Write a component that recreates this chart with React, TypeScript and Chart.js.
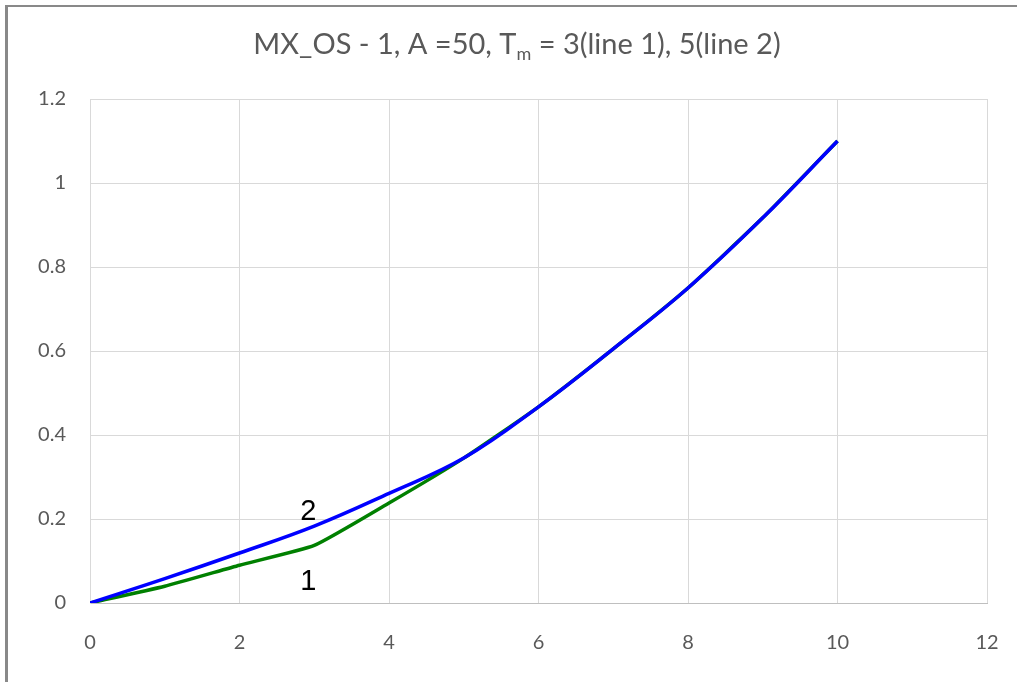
import { useEffect, useRef } from "react";
import { Chart, registerables } from "chart.js";

Chart.register(...registerables);

const xValues = [0, 1, 2, 3, 4, 5, 6, 7, 8, 9, 10];
const line1 = [0, 0.04, 0.09, 0.137, 0.238, 0.345, 0.467, 0.605, 0.75, 0.917, 1.1];
const line2 = [0, 0.058, 0.119, 0.183, 0.261, 0.345, 0.467, 0.605, 0.75, 0.917, 1.1];
const xTicks = [0, 2, 4, 6, 8, 10, 12];
const yTicks = [0, 0.2, 0.4, 0.6, 0.8, 1, 1.2];
const titleMain = "MX_OS - 1, A =50, T";
const titleSub = "m";
const titleRest = " = 3(line 1), 5(line 2)";
const lineLabels = [
  { text: "2", x: 2.92, y: 0.217 },
  { text: "1", x: 2.92, y: 0.05 },
];

const FONT = "Lato, 'Open Sans', sans-serif";

export default function App() {
  const ref = useRef<HTMLCanvasElement | null>(null);

  useEffect(() => {
    if (!ref.current) return;
    const decor = {
      id: "decor",
      beforeDraw(chart: any) {
        const ctx = chart.ctx;
        ctx.save();
        ctx.fillStyle = "#ffffff";
        ctx.fillRect(0, 0, chart.width, chart.height);
        ctx.fillStyle = "#898989";
        ctx.fillRect(5, 5, 3, chart.height);
        ctx.fillRect(5, 5, chart.width, 2);
        ctx.restore();
      },
      afterDraw(chart: any) {
        const ctx = chart.ctx;
        ctx.save();
        ctx.fillStyle = "#595959";
        ctx.textBaseline = "alphabetic";
        const big = `29px ${FONT}`;
        const small = `18px ${FONT}`;
        ctx.font = big;
        const w1 = ctx.measureText(titleMain).width;
        const w3 = ctx.measureText(titleRest).width;
        ctx.font = small;
        const w2 = ctx.measureText(titleSub).width;
        const total = w1 + w2 + w3;
        let x = 517 - total / 2;
        const base = 54;
        ctx.font = big;
        ctx.textAlign = "left";
        ctx.fillText(titleMain, x, base);
        x += w1;
        ctx.font = small;
        ctx.fillText(titleSub, x, base + 6);
        x += w2;
        ctx.font = big;
        ctx.fillText(titleRest, x, base);
        const xs = chart.scales.x;
        const ys = chart.scales.y;
        ctx.fillStyle = "#000000";
        ctx.font = "29px 'Liberation Sans', Arial, sans-serif";
        ctx.textAlign = "center";
        ctx.textBaseline = "middle";
        for (const l of lineLabels) {
          ctx.fillText(l.text, xs.getPixelForValue(l.x), ys.getPixelForValue(l.y));
        }
        ctx.restore();
      },
    };

    const chart = new Chart(ref.current, {
      type: "line",
      data: {
        datasets: [
          {
            label: "line 2",
            data: xValues.map((v, i) => ({ x: v, y: line2[i] })),
            borderColor: "#0000ff",
            backgroundColor: "#0000ff",
            borderWidth: 3.5,
            pointRadius: 0,
            tension: 0.4,
            order: 0,
          },
          {
            label: "line 1",
            data: xValues.map((v, i) => ({ x: v, y: line1[i] })),
            borderColor: "#008000",
            backgroundColor: "#008000",
            borderWidth: 3.5,
            pointRadius: 0,
            tension: 0.15,
            order: 1,
          },
        ],
      },
      options: {
        animation: false,
        responsive: true,
        maintainAspectRatio: false,
        layout: { padding: { left: 0, right: 30, top: 99, bottom: 0 } },
        plugins: {
          legend: { display: false },
          title: { display: false },
          tooltip: { enabled: false },
        },
        scales: {
          x: {
            type: "linear",
            min: 0,
            max: 12,
            afterBuildTicks: (s: any) => {
              s.ticks = xTicks.map((v) => ({ value: v }));
            },
            afterFit: (s: any) => {
              s.height = 79;
              s.paddingRight = 0;
              s.paddingLeft = 0;
            },
            grid: { color: "#d9d9d9", lineWidth: 1, drawTicks: false },
            border: { color: "#bfbfbf", width: 1 },
            ticks: {
              padding: 28,
              color: "#595959",
              font: { family: FONT, size: 20 },
              maxRotation: 0,
              callback: (v: any) => String(v),
            },
          },
          y: {
            type: "linear",
            min: 0,
            max: 1.2,
            afterBuildTicks: (s: any) => {
              s.ticks = yTicks.map((v) => ({ value: v }));
            },
            afterFit: (s: any) => {
              s.width = 90;
              s.paddingTop = 0;
              s.paddingBottom = 0;
            },
            grid: { color: "#d9d9d9", lineWidth: 1, drawTicks: false },
            border: { color: "#d9d9d9", width: 1 },
            ticks: {
              padding: 24,
              color: "#595959",
              font: { family: FONT, size: 20 },
              callback: (v: any) => String(Number(Number(v).toFixed(1))),
            },
          },
        },
      },
      plugins: [decor],
    } as any);
    return () => chart.destroy();
  }, []);

  return (
    <div style={{ position: "fixed", left: 0, top: 0, width: 1017, height: 682 }}>
      <canvas ref={ref} />
    </div>
  );
}
